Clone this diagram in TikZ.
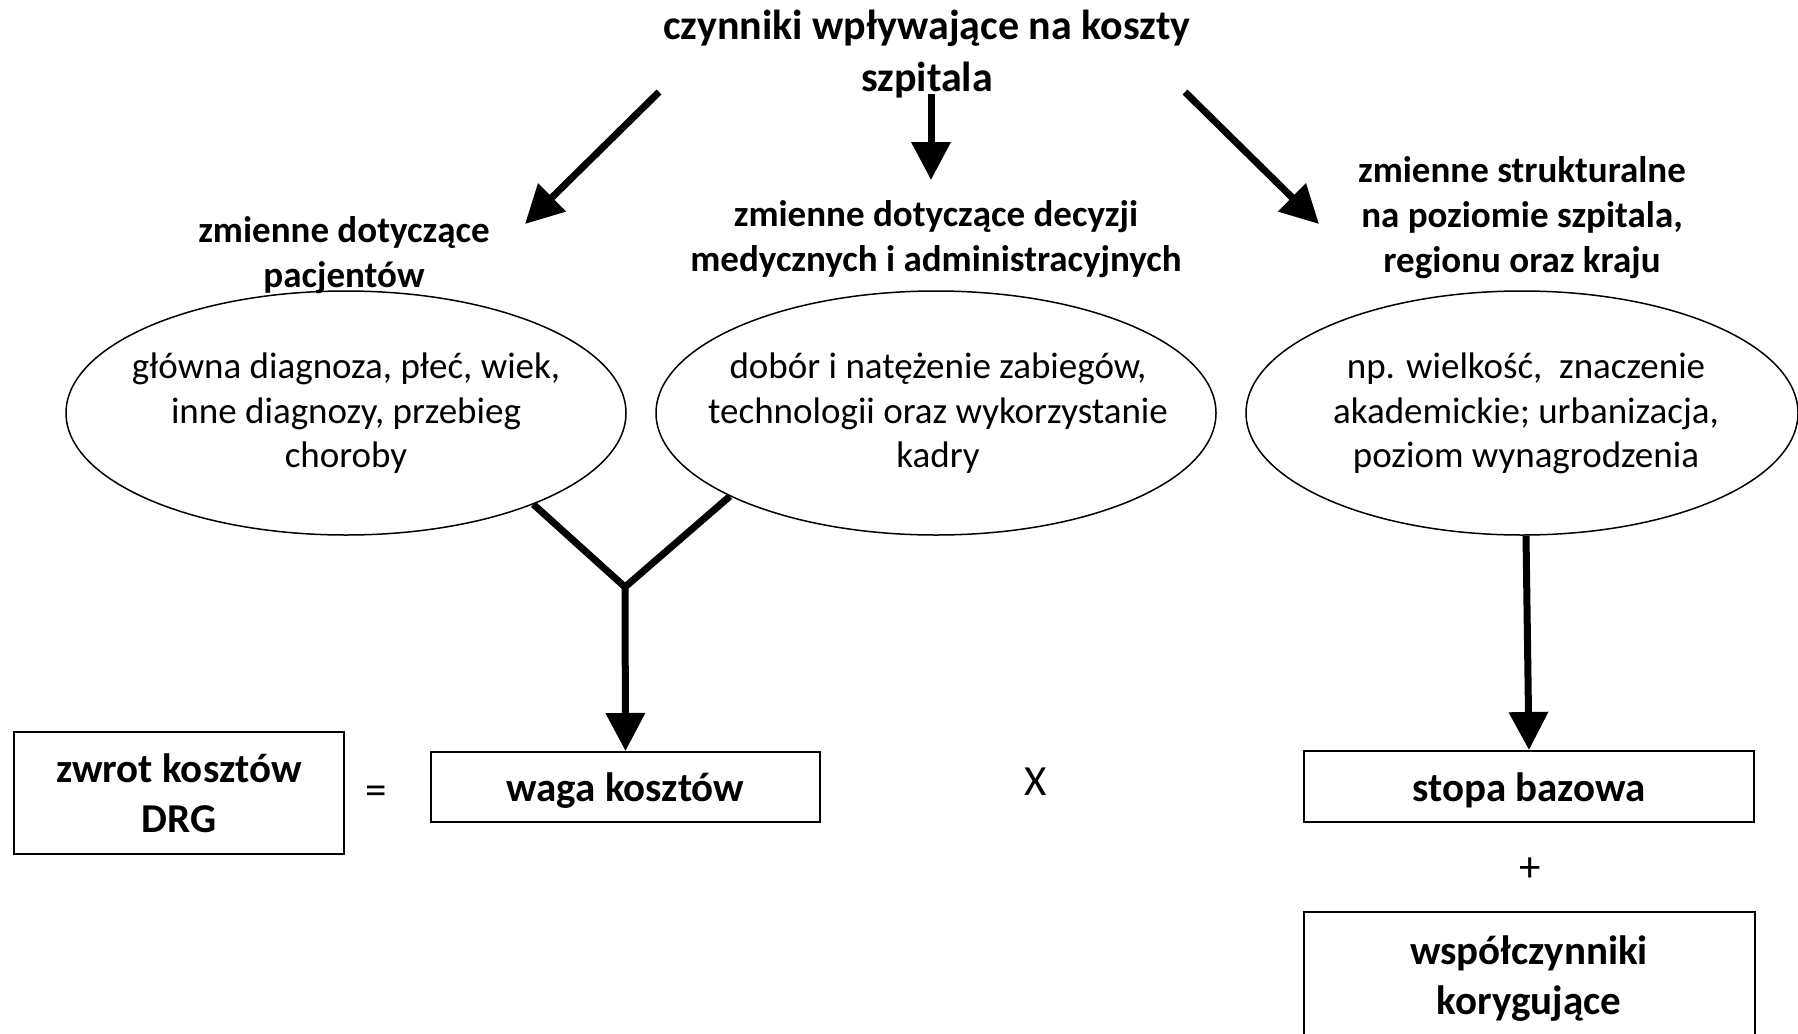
\documentclass[tikz,border=0pt]{standalone}
\usepackage{fontspec}
\setmainfont{Carlito}
\usetikzlibrary{arrows.meta,shapes.geometric}
\begin{document}
\begin{tikzpicture}[x=1pt,y=-1pt,
  titletext/.style={font=\fontsize{42}{52}\selectfont\bfseries, align=center, inner sep=0},
  subtext/.style={font=\fontsize{37}{45}\selectfont\bfseries, align=center, inner sep=0},
  etext/.style={font=\fontsize{37}{44.5}\selectfont, align=center, inner sep=0},
  oval/.style={ellipse, draw, line width=1.5pt, inner sep=0, minimum width=560pt, minimum height=244pt},
  box/.style={draw, line width=2pt, inner sep=0},
  boxtext/.style={font=\fontsize{41}{50}\selectfont\bfseries, align=center, inner sep=0},
  optext/.style={font=\fontsize{43}{50}\selectfont, inner sep=0},
  arr/.style={line width=7pt, -{Triangle[length=38pt,width=38pt]}},
  ]
\useasboundingbox (0,0) rectangle (1798,1033);
\clip (0,0) rectangle (1798,1033);

% title
\node[titletext] (title) at (927,54) {czynniki wpływające na koszty\\szpitala};
\coordinate (tl) at (659,92);
\coordinate (tm) at (931,94);
\coordinate (tr) at (1185,92);

% sub headings
\node[subtext] (s1) at (344,255.5) {zmienne dotyczące\\pacjentów};
\node[subtext] (s2) at (936,239.5) {zmienne dotyczące decyzji\\medycznych i administracyjnych};
\node[subtext] (s3) at (1522,217.5) {zmienne strukturalne\\na poziomie szpitala,\\regionu oraz kraju};
\coordinate (a1) at (525,224);
\coordinate (a2) at (931,180);
\coordinate (a3) at (1319,224);

\draw[arr] (tl) -- (a1);
\draw[arr] (tm) -- (a2);
\draw[arr] (tr) -- (a3);

% ellipses
\node[oval] (e1) at (346,413) {};
\node[oval] (e2) at (936,413) {};
\node[oval, minimum width=552pt] (e3) at (1522,413) {};
\node[etext] (e1t) at (346,413.5) {główna diagnoza, płeć, wiek,\\inne diagnozy, przebieg\\choroby};
\node[etext] (e2t) at (938,413.5) {dobór i natężenie zabiegów,\\technologii oraz wykorzystanie\\kadry};
\node[etext] (e3t) at (1526,413.5) {np. wielkość,\ \ znaczenie\\akademickie; urbanizacja,\\poziom wynagrodzenia};

% boxes
\node[box, minimum width=330pt, minimum height=122pt] (zwrot) at (179,793) {};
\node[boxtext] (zwrott) at (179,793.5) {zwrot kosztów\\DRG};
\node[optext] (eq) at (376,795) {=};
\node[box, minimum width=389pt, minimum height=70pt] (waga) at (625.5,787) {};
\node[boxtext] (wagat) at (625.5,790.5) {waga kosztów};
\node[optext] (times) at (1036,782) {X};
\node[box, minimum width=450pt, minimum height=71pt] (stopa) at (1529,786.5) {};
\node[boxtext] (stopat) at (1529,790) {stopa bazowa};
\node[optext] (plus) at (1530,870) {+};
\node[box, minimum width=451pt, minimum height=140pt] (wsp) at (1529.5,982) {};
\node[boxtext] (wspt) at (1529,978.5) {współczynniki\\korygujące};

% Y connector
\coordinate (j) at (625,587);
\draw[line width=7pt, line join=miter] (e1.-26) -- (j) -- (e2.202);
\draw[arr] (j) -- (waga.north);
\draw[arr] ([xshift=4pt]e3.south) -- (stopa.north);
\end{tikzpicture}
\end{document}
